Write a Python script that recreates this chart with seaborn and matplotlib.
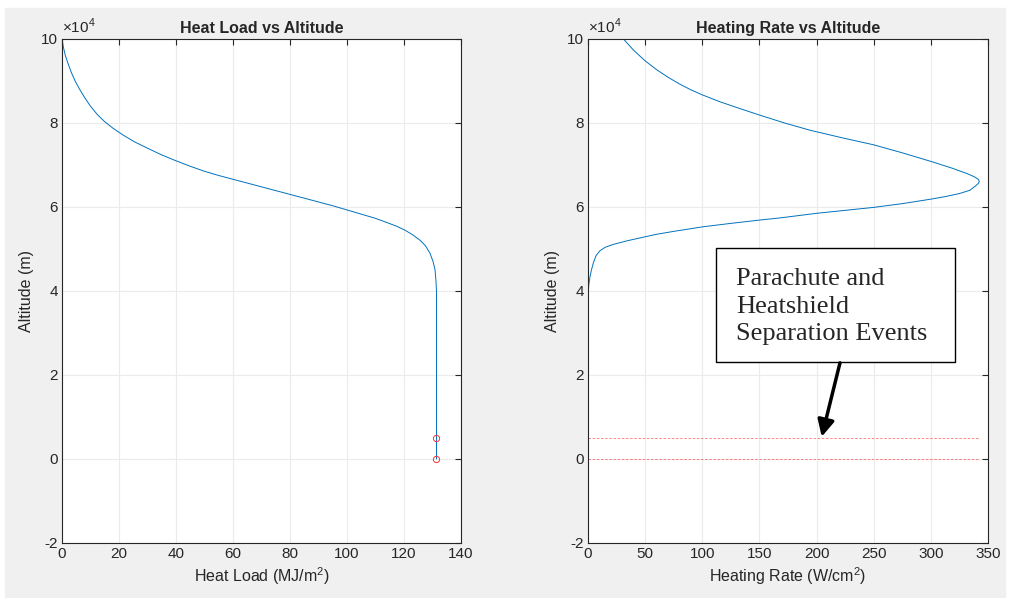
import numpy as np
import pandas as pd
import matplotlib
matplotlib.use("Agg")
import matplotlib.pyplot as plt
import seaborn as sns
from matplotlib.patches import Rectangle
from matplotlib.ticker import FuncFormatter

# Heat load curve (MJ/m^2) vs altitude (x1e4 m)
heat_load = [0, 0.5, 1.2, 2.2, 3.3, 4.6, 6.2, 8.0, 10.0, 12.4, 15, 18, 21.5, 25.5, 30,
             35, 40, 45, 50, 55, 60, 65, 70, 75, 80, 85, 90, 95, 100, 105, 110, 114,
             117.5, 120.3, 123, 125.6, 127.5, 129.1, 130.2, 130.9, 131.2, 131.4, 131.4]
heat_load_alt = [10.0, 9.8, 9.6, 9.4, 9.2, 9.0, 8.8, 8.6, 8.4, 8.2, 8.03, 7.87, 7.71, 7.55,
                 7.4, 7.24, 7.1, 6.97, 6.85, 6.75, 6.66, 6.57, 6.48, 6.39, 6.30, 6.21,
                 6.12, 6.03, 5.93, 5.83, 5.73, 5.63, 5.54, 5.45, 5.34, 5.21, 5.08, 4.90,
                 4.70, 4.50, 4.25, 4.0, 0.0]

# Heating rate curve (W/cm^2) vs altitude (x1e4 m)
heating_rate = [31, 40, 50, 60, 70, 80, 90, 100, 115, 130, 150, 172, 194, 222,
                250, 275, 300.7, 318, 331.3, 338, 341.5, 342.4, 341.5, 339, 337, 334.3,
                325, 313, 300.7, 275, 249.7, 225, 200.1, 168, 150.5, 125, 100.9, 75, 60,
                49.9, 35, 22.1, 15, 10.5, 7, 4.7, 3, 1.75, 0.8, 0.3, 0.05, 0, 0]
heating_rate_alt = [10.0, 9.73, 9.48, 9.27, 9.09, 8.93, 8.79, 8.67, 8.51, 8.37, 8.19,
                    8.0, 7.83, 7.65, 7.48, 7.29, 7.08, 6.93, 6.8, 6.72, 6.66, 6.61, 6.56,
                    6.50, 6.46, 6.40, 6.32, 6.25, 6.19, 6.08, 5.99, 5.92, 5.85, 5.74, 5.69,
                    5.61, 5.53, 5.42, 5.35, 5.29, 5.20, 5.11, 5.04, 4.96, 4.84, 4.67, 4.50,
                    4.34, 4.17, 4.02, 3.8, 3.5, 0.0]

# Parachute / heatshield separation events
event_alt = [0.5, 0.0]
event_heat_load = [131.4, 131.4]
event_rate_span = [0, 341]

BLUE = "#0072BD"
GRID = "#ebebeb"
AXC = "#262626"


def style_axes(ax, xlim, xticks):
    ax.set_xlim(*xlim)
    ax.set_ylim(-20000, 100000)
    ax.set_xticks(xticks)
    ax.set_yticks(np.arange(-20000, 100001, 20000))
    ax.yaxis.set_major_formatter(FuncFormatter(lambda v, p: f"{v / 1e4:g}"))
    ax.grid(True, color=GRID, linewidth=0.8)
    ax.set_axisbelow(True)
    ax.tick_params(direction="in", length=4, width=0.8, colors=AXC, labelsize=11,
                   top=True, right=True, pad=3)
    for s in ax.spines.values():
        s.set_color(AXC)
        s.set_linewidth(0.8)
    ax.text(0.0, 1.006, r"$\times10^4$", transform=ax.transAxes, ha="left", va="bottom",
            fontsize=11, color=AXC)
    ax.set_ylabel("Altitude (m)", fontsize=11.5, color=AXC, labelpad=5)


def main():
    sns.set_style("white")
    plt.rcParams["font.family"] = ["Liberation Sans", "DejaVu Sans"]
    plt.rcParams["axes.unicode_minus"] = False
    plt.rcParams["mathtext.fontset"] = "custom"
    plt.rcParams["mathtext.rm"] = "Liberation Sans"

    fig = plt.figure(figsize=(10.1, 5.98), dpi=100, facecolor="white")
    fig.patches.append(Rectangle((5 / 1010, 0), 1000 / 1010, 590 / 598,
                                 transform=fig.transFigure, color="#f0f0f0", zorder=-1))

    ax1 = fig.add_axes([62 / 1010, 55 / 598, 399 / 1010, 504 / 598])
    ax2 = fig.add_axes([588 / 1010, 55 / 598, 400 / 1010, 504 / 598])

    df1 = pd.DataFrame({"load": heat_load, "alt": np.array(heat_load_alt) * 1e4})
    sns.lineplot(data=df1, x="load", y="alt", sort=False, estimator=None,
                 color=BLUE, linewidth=0.7, ax=ax1)
    ax1.plot(event_heat_load, np.array(event_alt) * 1e4, "o", mfc="none", mec="#ff3030",
             mew=0.7, markersize=4.5)
    style_axes(ax1, (0, 140), np.arange(0, 141, 20))
    ax1.set_title("Heat Load vs Altitude", fontsize=11.5, fontweight="bold", pad=4)
    ax1.set_xlabel("Heat Load (MJ/m$^2$)", fontsize=11.5, color=AXC, labelpad=3)

    df2 = pd.DataFrame({"rate": heating_rate, "alt": np.array(heating_rate_alt) * 1e4})
    sns.lineplot(data=df2, x="rate", y="alt", sort=False, estimator=None,
                 color=BLUE, linewidth=0.7, ax=ax2)
    for a in event_alt:
        ax2.plot(event_rate_span, [a * 1e4, a * 1e4], color="#ff5050", linewidth=0.6,
                 linestyle=(0, (3, 2)), alpha=0.8)
    style_axes(ax2, (0, 350), np.arange(0, 351, 50))
    ax2.set_title("Heating Rate vs Altitude", fontsize=11.5, fontweight="bold", pad=4)
    ax2.set_xlabel("Heating Rate (W/cm$^2$)", fontsize=11.5, color=AXC, labelpad=3)

    # annotation box with arrow
    ax2.add_patch(Rectangle((111.7, 23000), 209.4, 27200, facecolor="white",
                            edgecolor="black", linewidth=1.0, zorder=5))
    ax2.text(129.5, 36300, "Parachute and\nHeatshield\nSeparation Events",
             family=["Liberation Serif", "DejaVu Serif"], fontsize=19, ha="left",
             va="center", linespacing=1.35, zorder=6)
    ax2.annotate("", xy=(204.5, 5300), xytext=(220.5, 22900),
                 arrowprops=dict(arrowstyle="-|>,head_length=1.0,head_width=0.5",
                                 color="black", lw=2.5, shrinkA=0, shrinkB=0),
                 zorder=6)

    fig.savefig("out.png", dpi=100, facecolor=fig.get_facecolor())


if __name__ == "__main__":
    main()
